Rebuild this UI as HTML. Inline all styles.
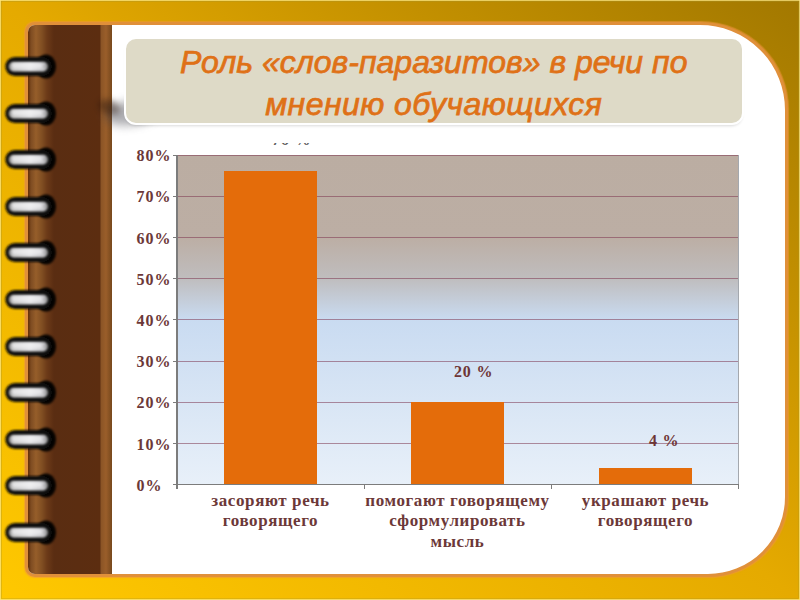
<!DOCTYPE html>
<html><head><meta charset="utf-8">
<style>
html,body{margin:0;padding:0;width:800px;height:600px;overflow:hidden;}
body{position:relative;background:#E6AC00;font-family:"Liberation Serif",serif;}
.frame{position:absolute;left:0;top:0;width:800px;height:600px;
 background:linear-gradient(to top right,#FFC800 0%,#E5AA00 50%,#C39000 75%,#A27800 100%);}
.edge{position:absolute;background:rgba(250,230,130,0.75);}
.page{position:absolute;left:25px;top:22px;width:757px;height:549px;border:3px solid #E0903A;background:#fff;box-shadow:0 0 1px 0.5px rgba(240,150,60,0.6);
 border-radius:10px 88px 80px 10px;overflow:hidden;}
.bind{position:absolute;left:0;top:0;width:84px;height:100%;
 background:linear-gradient(90deg,#6A3000 0px,#6E3C14 1.5px,#7E4C22 3px,#965E2A 8px,#804E22 14px,#6C3A18 19px,#5A2D12 26px,#5C2D10 72px,#8A5426 73px,#9A5E2A 78px,#7A4A1E 83.5px,#5a3010 84px);}
.ring{position:absolute;left:3px;}
.title{position:absolute;left:123.5px;top:36.9px;width:616.5px;height:84.6px;background:#DEDAC7;border:2px solid #fff;border-radius:12px;
 box-shadow:0 3px 3px -2px rgba(0,0,0,0.15);}
.tshadow{position:absolute;left:104px;top:101px;width:55px;height:24px;background:rgba(60,60,70,0.42);border-radius:50%;filter:blur(5px);transform:rotate(-8deg);}
.tt{position:absolute;left:0;top:3.4px;width:100%;text-align:center;font-family:"Liberation Sans",sans-serif;font-weight:normal;font-style:italic;color:#DF7117;font-size:32px;line-height:41.25px;-webkit-text-stroke:0.75px #DF7117;}
.plot{position:absolute;left:177px;top:154.5px;width:561px;height:329.6px;
 background:linear-gradient(180deg,#BBADA2 0%,#BCAEA4 25%,#BFBDBE 37.5%,#C9DBF1 50%,#E8F0F9 100%);border-right:1px solid #A4A8AE;}
.gl{position:absolute;left:0;width:561px;height:1px;background:rgba(125,55,80,0.55);}
.bar{position:absolute;background:#E46C0A;}
.tk{position:absolute;background:#7C7C7C;}
.yl{position:absolute;left:136.5px;width:60px;text-align:left;font-weight:bold;font-size:16px;letter-spacing:1px;color:#6C3838;line-height:20px;}
.xl{position:absolute;text-align:center;font-weight:bold;font-size:17px;letter-spacing:0.6px;color:#6C3838;line-height:20.5px;white-space:nowrap;}
.dl{position:absolute;font-weight:bold;font-size:16px;letter-spacing:0.8px;color:#6E3636;line-height:20px;white-space:nowrap;}
</style></head><body>
<div class="frame"></div>
<div class="edge" style="left:0;top:0;width:800px;height:1px;"></div>
<div class="edge" style="left:0;top:0;width:1px;height:600px;"></div>
<div class="edge" style="left:799px;top:0;width:1px;height:600px;"></div>
<div class="edge" style="left:0;top:599px;width:800px;height:1px;"></div>
<div style="position:absolute;left:1px;top:1px;width:797px;height:1px;background:rgba(170,150,40,0.35)"></div>
<div style="position:absolute;left:1px;top:1px;width:1px;height:597px;background:rgba(170,150,40,0.35)"></div>
<div style="position:absolute;left:798px;top:1px;width:1px;height:597px;background:rgba(170,150,40,0.3)"></div>
<div style="position:absolute;left:1px;top:598px;width:797px;height:1px;background:rgba(170,150,40,0.3)"></div>
<div class="page"><div class="bind"></div></div>
<svg width="0" height="0" style="position:absolute"><defs>
<filter id="bl" x="-20%" y="-20%" width="140%" height="140%"><feGaussianBlur stdDeviation="0.8"/></filter>
<filter id="bl2" x="-20%" y="-20%" width="140%" height="140%"><feGaussianBlur stdDeviation="0.9"/></filter>
<linearGradient id="rg" x1="0" y1="0" x2="1" y2="0">
<stop offset="0" stop-color="#8a8a8a"/><stop offset="0.12" stop-color="#c8c8c8"/><stop offset="0.55" stop-color="#e6e6e8"/><stop offset="0.88" stop-color="#c6c6ca"/><stop offset="1" stop-color="#7a7a7a"/>
</linearGradient></defs></svg>
<svg class="ring" style="top:51.0px" width="56" height="30" viewBox="0 0 56 30">
<ellipse cx="43" cy="15.4" rx="10" ry="12" fill="#050505" opacity="0.95" filter="url(#bl)"/>
<rect x="2.3" y="6" width="46.4" height="19" rx="9.5" fill="#101010" filter="url(#bl)"/>
<rect x="5.6" y="10.8" width="39.5" height="9.6" rx="4.8" fill="url(#rg)" filter="url(#bl2)"/>
<rect x="9" y="12.2" width="30" height="5" rx="2.5" fill="#f4f4f6" opacity="0.6" filter="url(#bl2)"/>
</svg>
<svg class="ring" style="top:97.6px" width="56" height="30" viewBox="0 0 56 30">
<ellipse cx="43" cy="15.4" rx="10" ry="12" fill="#050505" opacity="0.95" filter="url(#bl)"/>
<rect x="2.3" y="6" width="46.4" height="19" rx="9.5" fill="#101010" filter="url(#bl)"/>
<rect x="5.6" y="10.8" width="39.5" height="9.6" rx="4.8" fill="url(#rg)" filter="url(#bl2)"/>
<rect x="9" y="12.2" width="30" height="5" rx="2.5" fill="#f4f4f6" opacity="0.6" filter="url(#bl2)"/>
</svg>
<svg class="ring" style="top:144.2px" width="56" height="30" viewBox="0 0 56 30">
<ellipse cx="43" cy="15.4" rx="10" ry="12" fill="#050505" opacity="0.95" filter="url(#bl)"/>
<rect x="2.3" y="6" width="46.4" height="19" rx="9.5" fill="#101010" filter="url(#bl)"/>
<rect x="5.6" y="10.8" width="39.5" height="9.6" rx="4.8" fill="url(#rg)" filter="url(#bl2)"/>
<rect x="9" y="12.2" width="30" height="5" rx="2.5" fill="#f4f4f6" opacity="0.6" filter="url(#bl2)"/>
</svg>
<svg class="ring" style="top:190.8px" width="56" height="30" viewBox="0 0 56 30">
<ellipse cx="43" cy="15.4" rx="10" ry="12" fill="#050505" opacity="0.95" filter="url(#bl)"/>
<rect x="2.3" y="6" width="46.4" height="19" rx="9.5" fill="#101010" filter="url(#bl)"/>
<rect x="5.6" y="10.8" width="39.5" height="9.6" rx="4.8" fill="url(#rg)" filter="url(#bl2)"/>
<rect x="9" y="12.2" width="30" height="5" rx="2.5" fill="#f4f4f6" opacity="0.6" filter="url(#bl2)"/>
</svg>
<svg class="ring" style="top:237.4px" width="56" height="30" viewBox="0 0 56 30">
<ellipse cx="43" cy="15.4" rx="10" ry="12" fill="#050505" opacity="0.95" filter="url(#bl)"/>
<rect x="2.3" y="6" width="46.4" height="19" rx="9.5" fill="#101010" filter="url(#bl)"/>
<rect x="5.6" y="10.8" width="39.5" height="9.6" rx="4.8" fill="url(#rg)" filter="url(#bl2)"/>
<rect x="9" y="12.2" width="30" height="5" rx="2.5" fill="#f4f4f6" opacity="0.6" filter="url(#bl2)"/>
</svg>
<svg class="ring" style="top:284.0px" width="56" height="30" viewBox="0 0 56 30">
<ellipse cx="43" cy="15.4" rx="10" ry="12" fill="#050505" opacity="0.95" filter="url(#bl)"/>
<rect x="2.3" y="6" width="46.4" height="19" rx="9.5" fill="#101010" filter="url(#bl)"/>
<rect x="5.6" y="10.8" width="39.5" height="9.6" rx="4.8" fill="url(#rg)" filter="url(#bl2)"/>
<rect x="9" y="12.2" width="30" height="5" rx="2.5" fill="#f4f4f6" opacity="0.6" filter="url(#bl2)"/>
</svg>
<svg class="ring" style="top:330.6px" width="56" height="30" viewBox="0 0 56 30">
<ellipse cx="43" cy="15.4" rx="10" ry="12" fill="#050505" opacity="0.95" filter="url(#bl)"/>
<rect x="2.3" y="6" width="46.4" height="19" rx="9.5" fill="#101010" filter="url(#bl)"/>
<rect x="5.6" y="10.8" width="39.5" height="9.6" rx="4.8" fill="url(#rg)" filter="url(#bl2)"/>
<rect x="9" y="12.2" width="30" height="5" rx="2.5" fill="#f4f4f6" opacity="0.6" filter="url(#bl2)"/>
</svg>
<svg class="ring" style="top:377.2px" width="56" height="30" viewBox="0 0 56 30">
<ellipse cx="43" cy="15.4" rx="10" ry="12" fill="#050505" opacity="0.95" filter="url(#bl)"/>
<rect x="2.3" y="6" width="46.4" height="19" rx="9.5" fill="#101010" filter="url(#bl)"/>
<rect x="5.6" y="10.8" width="39.5" height="9.6" rx="4.8" fill="url(#rg)" filter="url(#bl2)"/>
<rect x="9" y="12.2" width="30" height="5" rx="2.5" fill="#f4f4f6" opacity="0.6" filter="url(#bl2)"/>
</svg>
<svg class="ring" style="top:423.8px" width="56" height="30" viewBox="0 0 56 30">
<ellipse cx="43" cy="15.4" rx="10" ry="12" fill="#050505" opacity="0.95" filter="url(#bl)"/>
<rect x="2.3" y="6" width="46.4" height="19" rx="9.5" fill="#101010" filter="url(#bl)"/>
<rect x="5.6" y="10.8" width="39.5" height="9.6" rx="4.8" fill="url(#rg)" filter="url(#bl2)"/>
<rect x="9" y="12.2" width="30" height="5" rx="2.5" fill="#f4f4f6" opacity="0.6" filter="url(#bl2)"/>
</svg>
<svg class="ring" style="top:470.4px" width="56" height="30" viewBox="0 0 56 30">
<ellipse cx="43" cy="15.4" rx="10" ry="12" fill="#050505" opacity="0.95" filter="url(#bl)"/>
<rect x="2.3" y="6" width="46.4" height="19" rx="9.5" fill="#101010" filter="url(#bl)"/>
<rect x="5.6" y="10.8" width="39.5" height="9.6" rx="4.8" fill="url(#rg)" filter="url(#bl2)"/>
<rect x="9" y="12.2" width="30" height="5" rx="2.5" fill="#f4f4f6" opacity="0.6" filter="url(#bl2)"/>
</svg>
<svg class="ring" style="top:517.0px" width="56" height="30" viewBox="0 0 56 30">
<ellipse cx="43" cy="15.4" rx="10" ry="12" fill="#050505" opacity="0.95" filter="url(#bl)"/>
<rect x="2.3" y="6" width="46.4" height="19" rx="9.5" fill="#101010" filter="url(#bl)"/>
<rect x="5.6" y="10.8" width="39.5" height="9.6" rx="4.8" fill="url(#rg)" filter="url(#bl2)"/>
<rect x="9" y="12.2" width="30" height="5" rx="2.5" fill="#f4f4f6" opacity="0.6" filter="url(#bl2)"/>
</svg>
<div class="tshadow"></div>
<div style="position:absolute;left:98px;top:100px;width:22px;height:14px;background:rgba(40,20,10,0.45);border-radius:50%;filter:blur(3px);transform:rotate(20deg)"></div>
<div class="title"><div class="tt">Роль «слов-паразитов» в речи по<br><span style="letter-spacing:0.45px">мнению обучающихся</span></div></div>
<div style="position:absolute;left:260px;top:143px;width:60px;height:4px;overflow:hidden"><div class="dl" style="left:12px;top:-13px;color:#606060">76 %</div></div>
<div class="plot">
<div class="gl" style="top:0.0px"></div>
<div class="gl" style="top:41.2px"></div>
<div class="gl" style="top:82.4px"></div>
<div class="gl" style="top:123.6px"></div>
<div class="gl" style="top:164.8px"></div>
<div class="gl" style="top:206.0px"></div>
<div class="gl" style="top:247.2px"></div>
<div class="gl" style="top:288.4px"></div>

  <div class="bar" style="left:47px;bottom:0;width:93px;height:313px"></div>
  <div class="bar" style="left:234.3px;bottom:0;width:93px;height:82.4px"></div>
  <div class="bar" style="left:422px;bottom:0;width:93px;height:16.5px"></div>
</div>
<div class="tk" style="left:176.2px;top:154.5px;width:1.6px;height:334px"></div>
<div class="tk" style="left:172.5px;top:483.6px;width:566.5px;height:1.6px"></div>
<div class="tk" style="left:172.5px;top:154.5px;width:5px;height:1px"></div>
<div class="yl" style="top:146.2px">80%</div>
<div class="tk" style="left:172.5px;top:195.7px;width:5px;height:1px"></div>
<div class="yl" style="top:187.4px">70%</div>
<div class="tk" style="left:172.5px;top:236.9px;width:5px;height:1px"></div>
<div class="yl" style="top:228.6px">60%</div>
<div class="tk" style="left:172.5px;top:278.1px;width:5px;height:1px"></div>
<div class="yl" style="top:269.8px">50%</div>
<div class="tk" style="left:172.5px;top:319.3px;width:5px;height:1px"></div>
<div class="yl" style="top:311.0px">40%</div>
<div class="tk" style="left:172.5px;top:360.5px;width:5px;height:1px"></div>
<div class="yl" style="top:352.2px">30%</div>
<div class="tk" style="left:172.5px;top:401.7px;width:5px;height:1px"></div>
<div class="yl" style="top:393.4px">20%</div>
<div class="tk" style="left:172.5px;top:442.9px;width:5px;height:1px"></div>
<div class="yl" style="top:434.6px">10%</div>
<div class="tk" style="left:172.5px;top:484.1px;width:5px;height:1px"></div>
<div class="yl" style="top:475.8px">0%</div>
<div class="tk" style="left:176px;top:484px;width:1.2px;height:5px"></div>
<div class="tk" style="left:363.5px;top:484px;width:1.2px;height:5px"></div>
<div class="tk" style="left:551px;top:484px;width:1.2px;height:5px"></div>
<div class="tk" style="left:738px;top:484px;width:1.2px;height:5px"></div>

<div class="xl" style="left:170.5px;top:490.8px;width:200px">засоряют речь<br>говорящего</div>
<div class="xl" style="left:357.5px;top:490.8px;width:200px">помогают говорящему<br>сформулировать<br>мысль</div>
<div class="xl" style="left:545.5px;top:490.8px;width:200px">украшают речь<br>говорящего</div>
<div class="dl" style="left:454px;top:362px">20 %</div>
<div class="dl" style="left:649px;top:431px">4 %</div>
</body></html>
